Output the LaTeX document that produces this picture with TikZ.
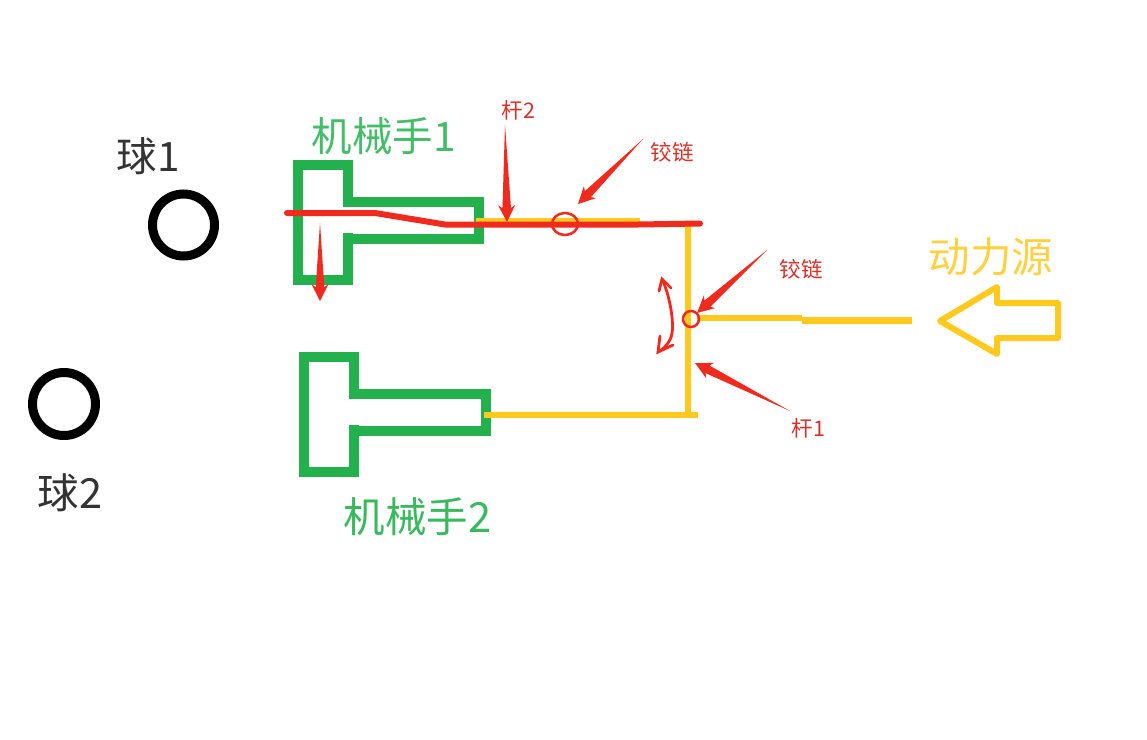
\documentclass[tikz,border=0pt]{standalone}
\usepackage{fontspec}
\setmainfont{Noto Sans CJK SC}[Scale=1]
\newfontfamily\cjk{Noto Sans CJK SC}
\usetikzlibrary{calc}
\definecolor{hgreen}{HTML}{22B14C}
\definecolor{hyellow}{HTML}{FFC91E}
\definecolor{hred}{HTML}{F02A1C}
\definecolor{hlabel}{HTML}{D9302A}
\newcommand{\taperarrow}[4]{% tail, tip, head length, head half-width
  \fill[hred] (#1)
    -- ($(#2)!#3!(#1)!0.5*#4!90:(#2)$)
    -- ($(#2)!1.2*#3!(#1)!#4!90:(#2)$)
    -- (#2)
    -- ($(#2)!1.2*#3!(#1)!#4!-90:(#2)$)
    -- ($(#2)!#3!(#1)!0.5*#4!-90:(#2)$)
    -- cycle;}
\tikzset{
  gripper/.style={draw=hgreen,line width=10pt,miter limit=10},
  rod/.style={draw=hyellow,line width=6.5pt},
  redline/.style={draw=hred,line width=6pt,line cap=round,line join=round},
  hinge/.style={draw=hred,line width=2.5pt},
  ball/.style={draw=black,line width=9pt},
  thin red/.style={draw=hred,line width=2.8pt,line cap=round},
  bigtext/.style={font=\cjk\fontsize{41.5}{41.5}\selectfont,inner sep=0pt},
  midtext/.style={font=\cjk\fontsize{40.5}{40.5}\selectfont,inner sep=0pt},
  smalltext/.style={font=\cjk\fontsize{21.5}{21.5}\selectfont,inner sep=0pt,text=hlabel},
}
\begin{document}
\begin{tikzpicture}[x=1pt,y=-1pt]
\useasboundingbox (0,0) rectangle (1147,739);
% balls
\draw[ball] (183.5,225) circle (31);
\draw[ball] (64,404) circle (31.5);
% grippers
\draw[gripper] (348,202) -- (348,165) -- (298,165) -- (298,280) -- (348,280) -- (348,233);
\draw[gripper] (343,239) -- (479,239) -- (479,202) -- (343,202);
\draw[gripper] (354,394) -- (354,357) -- (304,357) -- (304,472) -- (354,472) -- (354,425);
\draw[gripper] (349,431) -- (486,431) -- (486,394) -- (349,394);
% yellow rods
\coordinate (r2a) at (476,220.5);
\coordinate (r2b) at (640,220.5);
\coordinate (r2c) at (688,224);
\coordinate (r1a) at (688,415);
\coordinate (g2end) at (484,415);
\coordinate (r1b) at (698,415);
\coordinate (sa) at (697,318);
\coordinate (sb) at (802,318);
\coordinate (sc) at (802,320.5);
\coordinate (sd) at (912,320.5);
\draw[rod,line width=5pt] (r2a) -- (r2b);
\draw[rod] (r2c) -- (r1a);
\draw[rod] (g2end) -- (r1b);
\draw[rod] (sa) -- (sb);
\draw[rod] (sc) -- (sd);
\draw[draw=hyellow,line width=6pt,line join=round] (1058,303) -- (997,303) -- (997,287) -- (940,321) -- (997,354) -- (997,338) -- (1058,338) -- cycle;
% red overlay rod
\draw[redline] (287,213) -- (375,213) -- (445,224.5) -- (638,224.5) -- (700,223.5);
% hinges
\draw[hinge] (565,224) ellipse (13 and 11);
\draw[hinge] (691,319) circle (8);
% arrows
\coordinate (a1) at (505,125); \coordinate (b1) at (507,222);
\coordinate (a2) at (643,139); \coordinate (b2) at (578,204);
\coordinate (a3) at (767,250); \coordinate (b3) at (697,313);
\coordinate (a4) at (790,411); \coordinate (b4) at (695,363);
\coordinate (a5) at (320,223); \coordinate (b5) at (320,301);
\taperarrow{a1}{b1}{14pt}{8.5pt}
\taperarrow{a2}{b2}{14pt}{8.5pt}
\taperarrow{a3}{b3}{14pt}{8.5pt}
\taperarrow{a4}{b4}{14pt}{8.5pt}
\taperarrow{a5}{b5}{14pt}{8.5pt}
% swing arrow
\coordinate (s1) at (662,279);
\coordinate (s2) at (658,352);
\draw[thin red] (s1) .. controls (670,296) and (674,322) .. (672,333) .. controls (671,341) and (665,348) .. (s2);
\draw[thin red] (659,291) -- (s1) -- (671,288);
\draw[thin red] (660,336) -- (s2) -- (673,345);
% labels
\node[midtext,text=hgreen!85] (t1) at (383.5,136) {机械手1};
\node[bigtext,text=hgreen!90] (t2) at (417.5,517) {机械手2};
\node[midtext,text=black!80] (t3) at (148,156) {球1};
\node[bigtext,text=black!80] (t4) at (70,493) {球2};
\node[bigtext,text=hyellow!85] (t5) at (991,257) {动力源};
\node[smalltext] (t6) at (518.5,110) {杆2};
\node[smalltext] (t7) at (672,152) {铰链};
\node[smalltext] (t8) at (801,269) {铰链};
\node[smalltext] (t9) at (808.5,428) {杆1};
\end{tikzpicture}
\end{document}
